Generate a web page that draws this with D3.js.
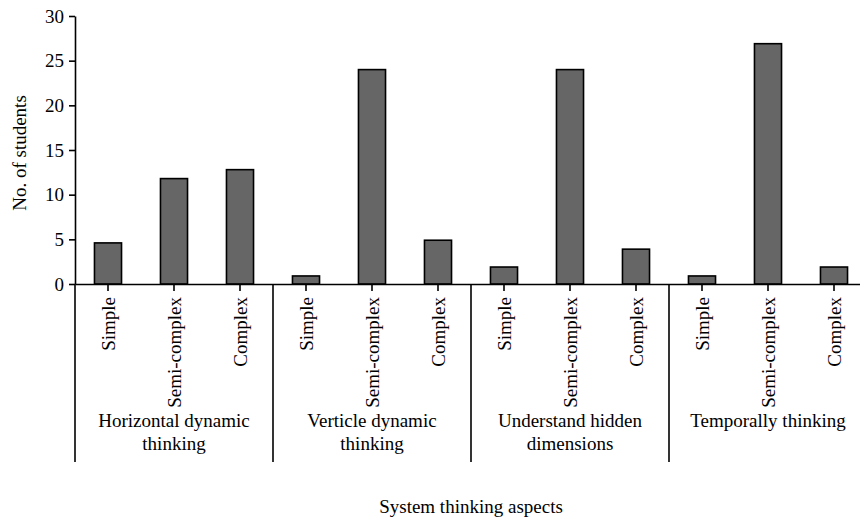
<!DOCTYPE html>
<html>
<head>
<meta charset="utf-8">
<script src="https://cdn.jsdelivr.net/npm/d3@7"></script>
<style>
  html, body { margin: 0; padding: 0; background: #fff; }
  svg { display: block; }
  svg text { font-family: "Liberation Serif", "DejaVu Serif", serif !important; fill: #000; }
</style>
</head>
<body>
<svg id="chart" width="860" height="519"></svg>
<script>
const groups = [
  ["Horizontal dynamic", "thinking"],
  ["Verticle dynamic", "thinking"],
  ["Understand hidden", "dimensions"],
  ["Temporally thinking"]
];
const levels = ["Simple", "Semi-complex", "Complex"];
const values = [
  [4.6, 11.8, 12.8],
  [0.9, 24, 4.9],
  [1.9, 24, 3.9],
  [0.9, 26.9, 1.9]
];
const yTicks = [0, 5, 10, 15, 20, 25, 30];
const yTitle = "No. of students";
const xTitle = "System thinking aspects";

const FONT = "'Liberation Serif', 'DejaVu Serif', serif";
const FS = "19px";
const svg = d3.select("#chart");
const mLeft = 75, mRight = 867, mTop = 16, mBottom = 284;

const rows = [];
groups.forEach((g, gi) => levels.forEach((l, li) => rows.push({ key: gi + "-" + li, group: gi, level: l, value: values[gi][li] })));

const x = d3.scaleBand().domain(rows.map(r => r.key)).range([mLeft, mRight]).paddingInner(0.59).paddingOuter(0.295);
const xg = d3.scaleBand().domain(groups.map((g, i) => i)).range([mLeft, mRight]);
const y = d3.scaleLinear().domain([0, 30]).range([mBottom, mTop]);

// bars
svg.append("g").selectAll("rect").data(rows).join("rect")
  .attr("x", d => x(d.key))
  .attr("y", d => y(d.value))
  .attr("width", x.bandwidth())
  .attr("height", d => y(0) - y(d.value))
  .attr("fill", "#666666")
  .attr("stroke", "#000")
  .attr("stroke-width", 1.6);

// y axis
const yAxis = svg.append("g").attr("transform", `translate(${mLeft},0)`)
  .call(d3.axisLeft(y).tickValues(yTicks).tickSize(6).tickPadding(5).tickSizeOuter(0));
yAxis.attr("font-family", FONT).attr("font-size", FS);
yAxis.select(".domain").attr("stroke-width", 1.6);
yAxis.selectAll(".tick line").attr("stroke-width", 1.6);

// x axis
const xAxis = svg.append("g").attr("transform", `translate(0,${mBottom})`)
  .call(d3.axisBottom(x).tickSize(7).tickSizeOuter(0).tickFormat(k => rows.find(r => r.key === k).level));
xAxis.attr("font-family", FONT).attr("font-size", FS);
xAxis.select(".domain").attr("stroke-width", 1.6);
xAxis.selectAll(".tick line").attr("stroke-width", 1.6);
xAxis.selectAll(".tick text")
  .attr("text-anchor", "end")
  .attr("transform", "rotate(-90)")
  .attr("x", -13).attr("y", 0).attr("dy", "0.35em");

// group separators
svg.append("g").selectAll("line").data(groups.map((g, i) => i)).join("line")
  .attr("x1", d => xg(d)).attr("x2", d => xg(d))
  .attr("y1", mBottom).attr("y2", 462)
  .attr("stroke", "#000").attr("stroke-width", 1.6);

// group labels
const gl = svg.append("g").attr("font-family", FONT).attr("font-size", FS)
  .selectAll("text").data(groups).join("text")
  .attr("x", (d, i) => xg(i) + xg.bandwidth() / 2)
  .attr("y", 427)
  .attr("text-anchor", "middle");
gl.selectAll("tspan").data(d => d).join("tspan")
  .attr("x", function() { return d3.select(this.parentNode).attr("x"); })
  .attr("dy", (d, i) => i === 0 ? 0 : "1.2em")
  .text(d => d);

// titles
svg.append("text").attr("x", (mLeft + mRight) / 2).attr("y", 513)
  .attr("font-family", FONT).attr("font-size", FS)
  .attr("text-anchor", "middle").text(xTitle);
svg.append("text").attr("transform", `translate(26,${(mTop + mBottom) / 2 + 3}) rotate(-90)`)
  .attr("font-family", FONT).attr("font-size", FS)
  .attr("text-anchor", "middle").text(yTitle);
</script>
</body>
</html>
